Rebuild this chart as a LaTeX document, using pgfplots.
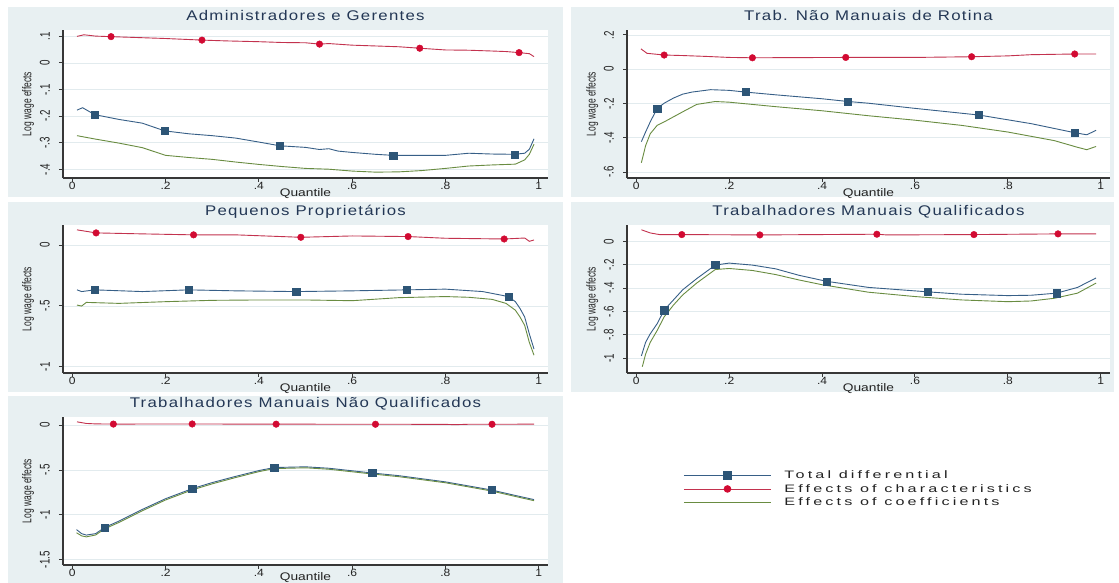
\documentclass[border=0pt]{standalone}
\usepackage{fontspec}
\setmainfont{Liberation Sans}
\usepackage{pgfplots}
\pgfplotsset{compat=1.18}

% fonts: widened faces for horizontal text, narrowed faces for rotated text
\newfontfamily\ttlfont[FakeStretch=1.2,LetterSpace=9]{Liberation Sans}
\newfontfamily\xtkfont[FakeStretch=1.15]{Liberation Sans}
\newfontfamily\xlbfont[FakeStretch=1.25]{Liberation Sans}
\newfontfamily\ytkfont[FakeStretch=0.7]{Liberation Sans}
\newfontfamily\ylbfont[FakeStretch=0.667]{Liberation Sans}
\newfontfamily\lgdfont[FakeStretch=1.5,LetterSpace=29]{Liberation Sans}

\definecolor{panelbg}{RGB}{232,240,242}
\definecolor{gridc}{RGB}{226,235,238}
\definecolor{ttlc}{RGB}{35,55,85}
\definecolor{axc}{RGB}{55,55,55}
\definecolor{tkc}{RGB}{35,35,35}
\definecolor{totc}{RGB}{55,95,135}
\definecolor{totm}{RGB}{45,85,118}
\definecolor{chrc}{RGB}{195,50,78}
\definecolor{chrm}{RGB}{210,10,50}
\definecolor{coefc}{RGB}{105,140,65}

\pgfplotsset{
  panel/.style={
    scale only axis, height=148pt,
    anchor=south west,
    xmin=-0.02, xmax=1.02,
    axis x line*=bottom, axis y line*=left,
    axis line style={-, line width=1.3pt, draw=axc},
    tick align=outside, major tick length=4pt,
    tick style={line width=1pt, draw=axc},
    xtick={0,0.2,0.4,0.6,0.8,1}, xticklabels={0,.2,.4,.6,.8,1},
    ymajorgrids, grid style={gridc, line width=0.8pt},
    axis background/.style={fill=white},
    title style={font=\ttlfont\fontsize{14}{16}\selectfont, text=ttlc,
      at={(0.5,1)}, anchor=base, yshift=3pt, inner sep=0pt},
    xlabel={Quantile},
    xlabel style={font=\xlbfont\fontsize{11}{12}\selectfont, text=tkc,
      at={(0.5,0)}, anchor=base, yshift=-19pt, inner sep=0pt},
    ylabel={Log wage effects},
    ylabel style={font=\ylbfont\fontsize{12.75}{14}\selectfont, text=tkc,
      at={(axis description cs:-0.072,0.5)}, anchor=center, inner sep=0pt},
    xticklabel style={font=\xtkfont\fontsize{10.5}{12}\selectfont, text=tkc, inner sep=0pt},
    yticklabel shift=9pt,
    yticklabel style={font=\ytkfont\fontsize{14}{14}\selectfont, text=tkc,
      rotate=90, anchor=south, inner sep=0pt},
  },
  tot/.style={totc, line width=0.9pt, forget plot},
  chr/.style={chrc, line width=0.9pt, forget plot},
  coef/.style={coefc, line width=0.9pt, forget plot},
  totmk/.style={only marks, mark=square*, mark size=3.6pt, mark options={draw=totm, fill=totm}, forget plot},
  chrmk/.style={only marks, mark=*, mark size=3.3pt, mark options={draw=chrm, fill=chrm}, forget plot},
}

\begin{document}
\begin{tikzpicture}
\useasboundingbox (0,0) rectangle (1119pt,583pt);
\fill[white] (0,0) rectangle (1119pt,583pt);
% panel backgrounds
\fill[panelbg] (8pt,386pt) rectangle (563pt,576pt);
\fill[panelbg] (571pt,386pt) rectangle (1114pt,576pt);
\fill[panelbg] (8pt,191pt) rectangle (563pt,381pt);
\fill[panelbg] (571pt,191pt) rectangle (1114pt,381pt);
\fill[panelbg] (8pt,0pt) rectangle (563pt,187pt);

% ---------- Administradores e Gerentes ----------
\begin{axis}[panel, width=485pt, at={(63pt,405pt)},
  title={Administradores e Gerentes},
  ymin=-0.432, ymax=0.124,
  ytick={-0.4,-0.3,-0.2,-0.1,0,0.1}, yticklabels={-.4,-.3,-.2,-.1,0,.1}]
\addplot[tot] coordinates {(0.01,-0.177) (0.022,-0.168) (0.048,-0.194) (0.1,-0.212) (0.15,-0.226) (0.198,-0.255) (0.25,-0.266) (0.3,-0.273) (0.35,-0.282) (0.4,-0.297) (0.445,-0.311) (0.5,-0.317) (0.53,-0.325) (0.55,-0.322) (0.57,-0.331) (0.6,-0.336) (0.65,-0.343) (0.688,-0.347) (0.75,-0.347) (0.8,-0.347) (0.85,-0.339) (0.9,-0.342) (0.948,-0.343) (0.97,-0.339) (0.98,-0.324) (0.99,-0.285)};
\addplot[chr] coordinates {(0.01,0.100) (0.025,0.106) (0.05,0.101) (0.083,0.099) (0.15,0.095) (0.2,0.092) (0.278,0.086) (0.33,0.083) (0.4,0.080) (0.45,0.077) (0.5,0.076) (0.53,0.071) (0.55,0.073) (0.6,0.067) (0.7,0.061) (0.745,0.0555) (0.8,0.049) (0.85,0.048) (0.9,0.045) (0.93,0.043) (0.958,0.039) (0.98,0.035) (0.99,0.024)};
\addplot[coef] coordinates {(0.01,-0.273) (0.05,-0.286) (0.1,-0.301) (0.15,-0.318) (0.2,-0.347) (0.25,-0.355) (0.3,-0.362) (0.35,-0.372) (0.4,-0.381) (0.45,-0.389) (0.5,-0.396) (0.55,-0.399) (0.6,-0.406) (0.65,-0.41) (0.7,-0.409) (0.75,-0.404) (0.8,-0.396) (0.85,-0.387) (0.9,-0.383) (0.95,-0.380) (0.97,-0.364) (0.98,-0.343) (0.99,-0.305)};
\addplot[totmk] coordinates {(0.048,-0.194) (0.198,-0.255) (0.445,-0.311) (0.688,-0.347) (0.948,-0.343)};
\addplot[chrmk] coordinates {(0.083,0.099) (0.278,0.086) (0.530,0.071) (0.745,0.0555) (0.958,0.039)};
\end{axis}

% ---------- Trab. Nao Manuais de Rotina ----------
\begin{axis}[panel, width=483pt, at={(627pt,405pt)},
  title={Trab. Não Manuais de Rotina},
  ymin=-0.634, ymax=0.229,
  ytick={-0.6,-0.4,-0.2,0,0.2}, yticklabels={-.6,-.4,-.2,0,.2}]
\addplot[tot] coordinates {(0.011,-0.422) (0.02,-0.366) (0.03,-0.307) (0.045,-0.228) (0.06,-0.198) (0.08,-0.168) (0.1,-0.145) (0.12,-0.133) (0.16,-0.119) (0.2,-0.123) (0.235,-0.133) (0.3,-0.149) (0.4,-0.172) (0.456,-0.188) (0.5,-0.198) (0.6,-0.228) (0.738,-0.267) (0.85,-0.317) (0.944,-0.370) (0.97,-0.382) (0.99,-0.356)};
\addplot[chr] coordinates {(0.01,0.119) (0.023,0.093) (0.06,0.083) (0.1,0.080) (0.15,0.075) (0.2,0.069) (0.25,0.067) (0.35,0.068) (0.451,0.069) (0.6,0.069) (0.722,0.073) (0.8,0.078) (0.85,0.085) (0.944,0.089) (0.99,0.089)};
\addplot[coef] coordinates {(0.011,-0.545) (0.02,-0.446) (0.03,-0.376) (0.045,-0.327) (0.06,-0.307) (0.1,-0.248) (0.13,-0.205) (0.17,-0.188) (0.2,-0.192) (0.3,-0.218) (0.4,-0.242) (0.5,-0.271) (0.6,-0.297) (0.7,-0.327) (0.8,-0.366) (0.9,-0.416) (0.95,-0.455) (0.97,-0.469) (0.99,-0.45)};
\addplot[totmk] coordinates {(0.045,-0.228) (0.235,-0.133) (0.456,-0.188) (0.738,-0.267) (0.944,-0.370)};
\addplot[chrmk] coordinates {(0.06,0.083) (0.25,0.067) (0.451,0.069) (0.722,0.073) (0.944,0.089)};
\end{axis}

% ---------- Pequenos Proprietarios ----------
\begin{axis}[panel, width=485pt, at={(63pt,210pt)},
  title={Pequenos Proprietários},
  ymin=-1.051, ymax=0.165,
  ytick={-1,-0.5,0}, yticklabels={-1,-.5,0}]
\addplot[tot] coordinates {(0.01,-0.368) (0.02,-0.382) (0.048,-0.368) (0.15,-0.382) (0.249,-0.368) (0.35,-0.376) (0.48,-0.382) (0.6,-0.376) (0.717,-0.368) (0.8,-0.362) (0.88,-0.382) (0.935,-0.423) (0.95,-0.465) (0.96,-0.521) (0.97,-0.591) (0.98,-0.73) (0.99,-0.855)};
\addplot[chr] coordinates {(0.01,0.125) (0.051,0.100) (0.15,0.092) (0.26,0.084) (0.35,0.084) (0.49,0.064) (0.6,0.075) (0.72,0.07) (0.8,0.056) (0.926,0.05) (0.97,0.058) (0.98,0.031) (0.99,0.042)};
\addplot[coef] coordinates {(0.01,-0.493) (0.02,-0.501) (0.03,-0.471) (0.1,-0.479) (0.2,-0.465) (0.3,-0.454) (0.4,-0.451) (0.5,-0.451) (0.6,-0.457) (0.7,-0.432) (0.8,-0.423) (0.85,-0.429) (0.9,-0.446) (0.93,-0.479) (0.95,-0.535) (0.96,-0.591) (0.97,-0.66) (0.98,-0.8) (0.99,-0.905)};
\addplot[totmk] coordinates {(0.048,-0.368) (0.249,-0.368) (0.48,-0.382) (0.717,-0.368) (0.935,-0.423)};
\addplot[chrmk] coordinates {(0.051,0.1) (0.26,0.084) (0.49,0.064) (0.72,0.07) (0.926,0.05)};
\end{axis}

% ---------- Trabalhadores Manuais Qualificados ----------
\begin{axis}[panel, width=483pt, at={(627pt,210pt)},
  title={Trabalhadores Manuais Qualificados},
  ymin=-1.126, ymax=0.140,
  ytick={-1,-0.8,-0.6,-0.4,-0.2,0}, yticklabels={-1,-.8,-.6,-.4,-.2,0}]
\addplot[tot] coordinates {(0.011,-0.98) (0.02,-0.864) (0.03,-0.791) (0.045,-0.704) (0.06,-0.588) (0.08,-0.501) (0.1,-0.414) (0.13,-0.319) (0.17,-0.203) (0.2,-0.186) (0.25,-0.203) (0.3,-0.235) (0.35,-0.29) (0.41,-0.342) (0.5,-0.394) (0.628,-0.432) (0.7,-0.452) (0.8,-0.464) (0.85,-0.461) (0.905,-0.443) (0.95,-0.394) (0.99,-0.313)};
\addplot[chr] coordinates {(0.011,0.099) (0.03,0.072) (0.05,0.058) (0.098,0.058) (0.266,0.055) (0.518,0.061) (0.54,0.055) (0.727,0.058) (0.908,0.064) (0.99,0.064)};
\addplot[coef] coordinates {(0.013,-1.072) (0.02,-0.965) (0.03,-0.864) (0.045,-0.762) (0.06,-0.646) (0.08,-0.545) (0.1,-0.458) (0.13,-0.357) (0.17,-0.241) (0.2,-0.232) (0.25,-0.249) (0.3,-0.284) (0.35,-0.33) (0.4,-0.371) (0.5,-0.435) (0.6,-0.472) (0.7,-0.501) (0.8,-0.516) (0.85,-0.51) (0.9,-0.487) (0.95,-0.443) (0.99,-0.357)};
\addplot[totmk] coordinates {(0.06,-0.588) (0.17,-0.203) (0.41,-0.342) (0.628,-0.432) (0.905,-0.443)};
\addplot[chrmk] coordinates {(0.098,0.058) (0.266,0.055) (0.518,0.061) (0.727,0.058) (0.908,0.064)};
\end{axis}

% ---------- Trabalhadores Manuais Nao Qualificados (with legend) ----------
\begin{axis}[panel, width=485pt, at={(63pt,18pt)},
  title={Trabalhadores Manuais Não Qualificados},
  xlabel style={yshift=3pt},
  ymin=-1.56, ymax=0.092,
  ytick={-1.5,-1,-0.5,0}, yticklabels={-1.5,-1,-.5,0},
  legend cell align=left,
  legend image code/.code={\draw[#1, mark repeat=2, mark phase=2] plot coordinates {(0pt,0pt) (43.5pt,0pt) (87pt,0pt)};},
  legend style={at={(axis description cs:1.279,0.652)}, anchor=north west,
    draw=none, fill=none, inner sep=0pt,
    font=\lgdfont\fontsize{10.8}{12}\selectfont, text=tkc,
    cells={anchor=west},
    nodes={inner sep=0pt, text height=10pt, text depth=3.5pt},
    /tikz/every odd column/.append style={column sep=13pt}}]
\addplot[tot] coordinates {(0.009,-1.165) (0.02,-1.21) (0.03,-1.226) (0.05,-1.21) (0.069,-1.142) (0.1,-1.07) (0.15,-0.94) (0.2,-0.82) (0.257,-0.708) (0.3,-0.64) (0.35,-0.571) (0.4,-0.506) (0.433,-0.472) (0.5,-0.464) (0.55,-0.48) (0.643,-0.533) (0.7,-0.563) (0.8,-0.632) (0.899,-0.723) (0.95,-0.784) (0.99,-0.83)};
\addplot[chr] coordinates {(0.01,0.038) (0.03,0.02) (0.05,0.015) (0.088,0.013) (0.257,0.014) (0.437,0.012) (0.65,0.011) (0.8,0.01) (0.82,0.006) (0.85,0.011) (0.9,0.011) (0.99,0.012)};
\addplot[coef] coordinates {(0.009,-1.2) (0.02,-1.235) (0.03,-1.246) (0.05,-1.225) (0.069,-1.157) (0.1,-1.085) (0.15,-0.955) (0.2,-0.834) (0.257,-0.722) (0.3,-0.654) (0.35,-0.584) (0.4,-0.518) (0.433,-0.484) (0.5,-0.475) (0.55,-0.491) (0.643,-0.544) (0.7,-0.574) (0.8,-0.642) (0.899,-0.734) (0.95,-0.795) (0.99,-0.842)};
\addplot[totmk] coordinates {(0.069,-1.142) (0.257,-0.708) (0.433,-0.472) (0.643,-0.533) (0.899,-0.723)};
\addplot[chrmk] coordinates {(0.088,0.013) (0.257,0.014) (0.437,0.012) (0.65,0.011) (0.9,0.011)};
\addlegendimage{totc, line width=0.9pt, mark=square*, mark size=3.6pt, mark options={draw=totm, fill=totm}}
\addlegendentry{Total differential}
\addlegendimage{chrc, line width=0.9pt, mark=*, mark size=3.3pt, mark options={draw=chrm, fill=chrm}}
\addlegendentry{Effects of characteristics}
\addlegendimage{coefc, line width=0.9pt}
\addlegendentry{Effects of coefficients}
\end{axis}
\end{tikzpicture}
\end{document}
